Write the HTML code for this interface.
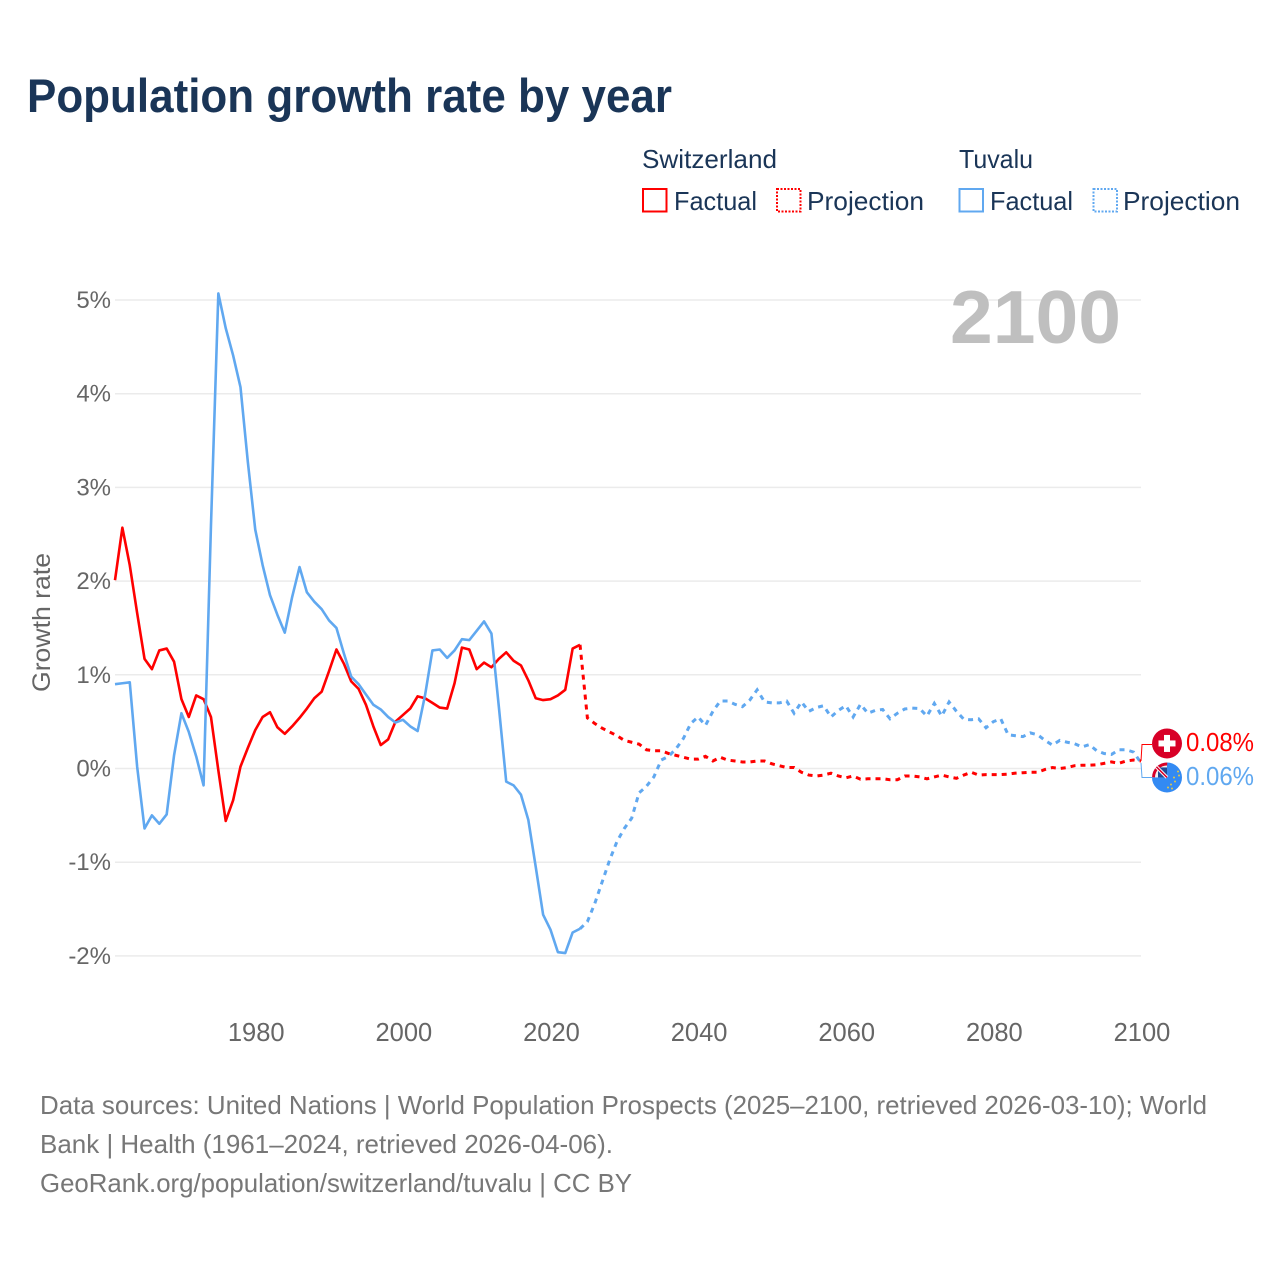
<!DOCTYPE html>
<html lang="en">
<head>
<meta charset="utf-8">
<title>Population growth rate by year</title>
<style>
html,body{margin:0;padding:0;background:#fff;}
svg{display:block;font-family:"Liberation Sans",sans-serif;}
</style>
</head>
<body>
<svg id="chart" xmlns="http://www.w3.org/2000/svg" width="1280" height="1280" viewBox="0 0 1280 1280">
  <rect x="0" y="0" width="1280" height="1280" fill="#ffffff"/>
  <text x="27" y="112" font-size="47" font-weight="700" fill="#1a3557" textLength="645" lengthAdjust="spacingAndGlyphs">Population growth rate by year</text>

  <g font-size="26" fill="#1a3557">
    <text x="642" y="168" textLength="135" lengthAdjust="spacingAndGlyphs">Switzerland</text>
    <rect x="643" y="189" width="23.5" height="22.5" fill="none" stroke="#ff0000" stroke-width="2"/>
    <text x="674" y="210" textLength="83" lengthAdjust="spacingAndGlyphs">Factual</text>
    <rect x="777" y="189" width="23.5" height="22.5" fill="none" stroke="#ff0000" stroke-width="2" stroke-dasharray="2 1.5"/>
    <text x="807" y="210" textLength="117" lengthAdjust="spacingAndGlyphs">Projection</text>
    <text x="959" y="168" textLength="74" lengthAdjust="spacingAndGlyphs">Tuvalu</text>
    <rect x="959.5" y="189" width="23.5" height="22.5" fill="none" stroke="#60a8f0" stroke-width="2"/>
    <text x="990" y="210" textLength="83" lengthAdjust="spacingAndGlyphs">Factual</text>
    <rect x="1093.5" y="189" width="23.5" height="22.5" fill="none" stroke="#60a8f0" stroke-width="2" stroke-dasharray="2 1.5"/>
    <text x="1123" y="210" textLength="117" lengthAdjust="spacingAndGlyphs">Projection</text>
  </g>

  <g id="grid"></g>
  <text x="950" y="343" font-size="75" font-weight="700" fill="#bfbfbf" textLength="171" lengthAdjust="spacingAndGlyphs">2100</text>
  <g id="yticks"></g>
  <g id="xticks"></g>
  <text transform="translate(50 692) rotate(-90)" font-size="25" fill="#666666" textLength="139" lengthAdjust="spacingAndGlyphs">Growth rate</text>
  <g id="series"></g>
  <g id="endlabels"></g>

  <g font-size="26" fill="#777777">
    <text x="40" y="1114" textLength="1167" lengthAdjust="spacingAndGlyphs">Data sources: United Nations | World Population Prospects (2025–2100, retrieved 2026-03-10); World</text>
    <text x="40" y="1153" textLength="573" lengthAdjust="spacingAndGlyphs">Bank | Health (1961–2024, retrieved 2026-04-06).</text>
    <text x="40" y="1192" textLength="592" lengthAdjust="spacingAndGlyphs">GeoRank.org/population/switzerland/tuvalu | CC BY</text>
  </g>
</svg>
<script>
const firstFactualYear = 1961;
const firstProjectionYear = 2025;
const yTickValues = [5, 4, 3, 2, 1, 0, -1, -2];
const yTickLabels = ["5%", "4%", "3%", "2%", "1%", "0%", "-1%", "-2%"];
const xTickValues = [1980, 2000, 2020, 2040, 2060, 2080, 2100];
const xTickLabels = ["1980", "2000", "2020", "2040", "2060", "2080", "2100"];

const switzerlandFactual = [2.01,2.57,2.17,1.66,1.17,1.06,1.26,1.28,1.14,0.74,0.55,0.78,0.74,0.55,-0.02,-0.56,-0.34,0.02,0.22,0.41,0.55,0.60,0.44,0.37,0.45,0.54,0.64,0.75,0.82,1.04,1.27,1.12,0.93,0.85,0.68,0.45,0.25,0.31,0.50,0.57,0.64,0.77,0.75,0.70,0.65,0.64,0.91,1.29,1.27,1.06,1.13,1.08,1.17,1.24,1.15,1.10,0.94,0.75,0.73,0.74,0.78,0.84,1.28,1.32];
const switzerlandProjection = [0.54,0.48,0.43,0.39,0.35,0.30,0.28,0.26,0.20,0.19,0.19,0.16,0.14,0.12,0.10,0.10,0.13,0.08,0.12,0.09,0.08,0.07,0.07,0.08,0.08,0.05,0.03,0.01,0.01,-0.04,-0.07,-0.08,-0.07,-0.05,-0.08,-0.10,-0.08,-0.115,-0.11,-0.11,-0.11,-0.12,-0.12,-0.08,-0.08,-0.09,-0.11,-0.09,-0.07,-0.09,-0.105,-0.07,-0.04,-0.07,-0.065,-0.065,-0.065,-0.06,-0.05,-0.045,-0.04,-0.04,-0.01,0.01,0.00,0.01,0.03,0.035,0.035,0.04,0.055,0.07,0.055,0.08,0.09,0.08];
const tuvaluFactual = [0.90,0.91,0.92,0.02,-0.64,-0.50,-0.59,-0.49,0.14,0.59,0.39,0.13,-0.18,2.59,5.07,4.70,4.41,4.07,3.27,2.55,2.17,1.85,1.64,1.45,1.83,2.15,1.88,1.78,1.70,1.58,1.50,1.23,0.98,0.90,0.79,0.68,0.63,0.55,0.49,0.52,0.45,0.40,0.78,1.26,1.27,1.18,1.26,1.38,1.37,1.47,1.57,1.44,0.66,-0.14,-0.18,-0.28,-0.55,-1.05,-1.56,-1.72,-1.96,-1.97,-1.75,-1.71];
const tuvaluProjection = [-1.635,-1.44,-1.21,-0.98,-0.78,-0.64,-0.53,-0.26,-0.19,-0.09,0.09,0.13,0.21,0.32,0.48,0.55,0.46,0.61,0.72,0.72,0.685,0.66,0.73,0.84,0.71,0.70,0.70,0.72,0.59,0.71,0.61,0.65,0.67,0.55,0.62,0.67,0.55,0.685,0.59,0.62,0.63,0.53,0.59,0.635,0.645,0.64,0.56,0.695,0.56,0.71,0.61,0.525,0.52,0.53,0.435,0.50,0.53,0.36,0.35,0.34,0.38,0.36,0.30,0.25,0.30,0.28,0.265,0.23,0.255,0.19,0.16,0.15,0.20,0.20,0.175,0.06];

const NS = 'http://www.w3.org/2000/svg';
const xScale = function (year) { return 115 + (year - 1961) * (1141 - 115) / 139; };
const yScale = function (value) { return 768.5 - value * 93.7; };
const RED = '#ff0000';
const BLUE = '#60a8f0';

function svgEl(tag, parent) {
  const el = document.createElementNS(NS, tag);
  parent.appendChild(el);
  return el;
}
function setAll(el, attrs) {
  Object.keys(attrs).forEach(function (k) { el.setAttribute(k, attrs[k]); });
}
function pointsFor(values, startYear) {
  return values.map(function (v, i) {
    return xScale(startYear + i).toFixed(2) + ',' + yScale(v).toFixed(2);
  });
}

const gridG = document.getElementById('grid');
const yTickG = document.getElementById('yticks');
yTickValues.forEach(function (v, i) {
  const line = svgEl('line', gridG);
  
  
  setAll(line, { x1: 115, x2: 1141, y1: yScale(v), y2: yScale(v), stroke: '#ebebeb', 'stroke-width': 1.5 });
  const t = svgEl('text', yTickG);
  
  
  setAll(t, { x: 111, y: yScale(v) + 8, 'text-anchor': 'end', 'font-size': 24, fill: '#666666' });
  t.textContent = yTickLabels[i];
});

const xTickG = document.getElementById('xticks');
xTickValues.forEach(function (v, i) {
  const t = svgEl('text', xTickG);
  
  
  setAll(t, { x: xScale(v) + 1, y: 1041, 'text-anchor': 'middle', 'font-size': 25.5, fill: '#666666' });
  t.textContent = xTickLabels[i];
});

const seriesG = document.getElementById('series');

const swissFactualLine = svgEl('polyline', seriesG);


setAll(swissFactualLine, { points: pointsFor(switzerlandFactual, firstFactualYear).join(' '), fill: 'none', stroke: RED, 'stroke-width': 2.6, 'stroke-linejoin': 'round' });

const tuvaluFactualLine = svgEl('polyline', seriesG);


setAll(tuvaluFactualLine, { points: pointsFor(tuvaluFactual, firstFactualYear).join(' '), fill: 'none', stroke: BLUE, 'stroke-width': 2.6, 'stroke-linejoin': 'round' });

const tuvaluProjectionLine = svgEl('polyline', seriesG);


setAll(tuvaluProjectionLine, {
  points: pointsFor(tuvaluFactual.slice(-1).concat(tuvaluProjection), firstProjectionYear - 1).join(' '),
  fill: 'none', stroke: BLUE, 'stroke-width': 3, 'stroke-dasharray': '5 5'
});

const swissProjectionLine = svgEl('polyline', seriesG);


setAll(swissProjectionLine, {
  points: pointsFor(switzerlandFactual.slice(-1).concat(switzerlandProjection), firstProjectionYear - 1).join(' '),
  fill: 'none', stroke: RED, 'stroke-width': 3, 'stroke-dasharray': '5 5'
});

/* End labels: slots sit above and below the mean of the two last values. */
const endG = document.getElementById('endlabels');
const lastSwiss = switzerlandProjection[switzerlandProjection.length - 1];
const lastTuvalu = tuvaluProjection[tuvaluProjection.length - 1];
const endX = xScale(2100);
const midY = (yScale(lastSwiss) + yScale(lastTuvalu)) / 2;
const swissSlot = midY - 18.5;
const tuvaluSlot = midY + 15.5;
const flagX = 1167;

const swissConnector = svgEl('polyline', endG);


setAll(swissConnector, { points: endX + ',' + yScale(lastSwiss) + ' ' + (endX + 1) + ',' + (swissSlot + 1) + ' 1152,' + (swissSlot + 1), fill: 'none', stroke: RED, 'stroke-width': 1 });

const tuvaluConnector = svgEl('polyline', endG);


setAll(tuvaluConnector, { points: endX + ',' + yScale(lastTuvalu) + ' ' + (endX + 1) + ',' + tuvaluSlot + ' 1152,' + tuvaluSlot, fill: 'none', stroke: BLUE, 'stroke-width': 1 });

const swissFlag = svgEl('g', endG);


const swissDisc = svgEl('circle', swissFlag);
setAll(swissDisc, { cx: flagX, cy: swissSlot, r: 15, fill: '#d80027' });
const swissCrossH = svgEl('rect', swissFlag);
setAll(swissCrossH, { x: flagX - 8.5, y: swissSlot - 3, width: 17, height: 6, fill: '#ffffff' });
const swissCrossV = svgEl('rect', swissFlag);
setAll(swissCrossV, { x: flagX - 3, y: swissSlot - 8.5, width: 6, height: 17, fill: '#ffffff' });

const tuvaluFlag = svgEl('g', endG);


const tuvaluClip = svgEl('clipPath', tuvaluFlag);
tuvaluClip.setAttribute('id', 'tuvalu-clip');
const tuvaluClipCircle = svgEl('circle', tuvaluClip);
setAll(tuvaluClipCircle, { cx: flagX, cy: tuvaluSlot, r: 15 });
const tuvaluDisc = svgEl('circle', tuvaluFlag);
setAll(tuvaluDisc, { cx: flagX, cy: tuvaluSlot, r: 15, fill: '#338af3' });
const jack = svgEl('g', tuvaluFlag);
jack.setAttribute('clip-path', 'url(#tuvalu-clip)');
const jackBase = svgEl('rect', jack);
setAll(jackBase, { x: flagX - 15, y: tuvaluSlot - 15, width: 15, height: 15, fill: '#f0f0f0' });
const jackRing = svgEl('circle', jack);
setAll(jackRing, { cx: flagX, cy: tuvaluSlot, r: 13.5, fill: 'none', stroke: '#d80027', 'stroke-width': 3, 'stroke-dasharray': '21.2 100', 'stroke-dashoffset': '-42.4' });
const jackNavy = svgEl('rect', jack);
setAll(jackNavy, { x: flagX - 9, y: tuvaluSlot - 10, width: 9, height: 10, fill: '#1f4a96' });
const jackWhite = svgEl('line', jack);
setAll(jackWhite, { x1: flagX - 11, y1: tuvaluSlot - 11, x2: flagX, y2: tuvaluSlot, stroke: '#ffffff', 'stroke-width': 3.5 });
const jackRed = svgEl('line', jack);
setAll(jackRed, { x1: flagX - 11, y1: tuvaluSlot - 11, x2: flagX, y2: tuvaluSlot, stroke: '#d80027', 'stroke-width': 1.5 });
[[11, -6], [12, -2], [7, 0], [8, 4], [4, 7], [1, 10], [5, 11]].forEach(function (d) {
  const star = svgEl('circle', tuvaluFlag);
  setAll(star, { cx: flagX + d[0], cy: tuvaluSlot + d[1], r: 1, fill: '#e0c84a' });
});

const swissLabel = svgEl('text', endG);


setAll(swissLabel, { x: 1186, y: swissSlot + 7.5, 'font-size': 25.5, fill: RED, textLength: 68, lengthAdjust: 'spacingAndGlyphs' });
swissLabel.textContent = lastSwiss.toFixed(2) + '%';

const tuvaluLabel = svgEl('text', endG);


setAll(tuvaluLabel, { x: 1186, y: tuvaluSlot + 7.5, 'font-size': 25.5, fill: BLUE, textLength: 68, lengthAdjust: 'spacingAndGlyphs' });
tuvaluLabel.textContent = lastTuvalu.toFixed(2) + '%';
</script>
</body>
</html>
